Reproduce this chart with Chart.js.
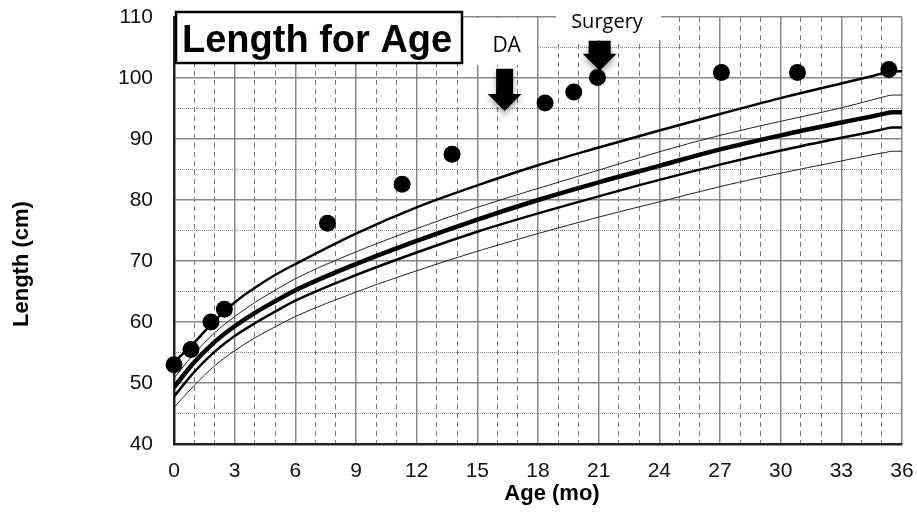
<!DOCTYPE html>
<html>
<head>
<meta charset="utf-8">
<script src="https://cdn.jsdelivr.net/npm/chart.js@4.4.1/dist/chart.umd.min.js"></script>
<style>
  html, body { margin: 0; padding: 0; background: #fff; }
  #wrap { width: 917px; height: 515px; }
</style>
</head>
<body>
<div id="wrap"><canvas id="chart" width="917" height="515"></canvas></div>
<script>
// reference curves (months / cm)
const refAges = [0, 1, 2, 3, 4, 5, 6, 9, 12, 15, 18, 21, 24, 27, 30, 33, 34.5, 35.2, 35.5, 36];
const p95 = [53.4, 56.6, 60.2, 63.2, 65.6, 67.7, 69.5, 74.5, 78.8, 82.4, 85.7, 88.6, 91.4, 94.1, 96.7, 99.1, 100.3, 100.9, 101.1, 101.1];
const p75 = [50.8, 54.8, 58.2, 60.9, 63.2, 65.2, 67.1, 71.5, 75.3, 78.8, 81.9, 84.9, 87.9, 90.6, 92.9, 95.1, 96.4, 97.0, 97.2, 97.2];
const p50 = [49.3, 53.4, 56.7, 59.3, 61.5, 63.4, 65.2, 69.5, 73.3, 76.8, 80.0, 82.9, 85.6, 88.3, 90.6, 92.7, 93.7, 94.2, 94.4, 94.4];
const p25 = [47.8, 51.8, 55.1, 57.7, 59.8, 61.7, 63.5, 67.7, 71.4, 74.8, 77.8, 80.6, 83.3, 85.8, 88.1, 90.2, 91.2, 91.7, 91.9, 91.9];
const p5  = [46.0, 49.6, 52.8, 55.3, 57.4, 59.2, 60.9, 64.9, 68.4, 71.6, 74.5, 77.2, 79.7, 82.2, 84.4, 86.4, 87.4, 87.8, 88.0, 88.0];

// patient measurements
const visitAge = [0, 0.84, 1.83, 2.49, 7.59, 11.28, 13.75, 18.35, 19.77, 20.94, 27.07, 30.83, 35.35];
const visitLength = [53.0, 55.5, 60.0, 62.1, 76.2, 82.6, 87.5, 95.9, 97.7, 100.1, 100.9, 100.9, 101.4];

// events marked with arrows
const eventNames = ['DA', 'Surgery'];
const eventAge = [16.35, 21.05];
const eventTip = [94.6, 101.2];
const eventTop = [101.5, 106.1];

const xTicks = { min: 0, max: 36, major: 3, minor: 1 };
const yTicks = { min: 40, max: 110, major: 10, minor: 5 };

const tickFont = { family: 'Liberation Sans, Arial, sans-serif', size: 21 };
const pts = (xs, ys) => xs.map((x, i) => ({ x: x, y: ys[i] }));

function curve(values, width, color) {
  return {
    type: 'line',
    data: pts(refAges, values),
    borderColor: color,
    borderWidth: width,
    pointRadius: 0,
    fill: false,
    cubicInterpolationMode: 'monotone',
    order: 1
  };
}

function drawArrow(ctx, x, yTop, yTip, shaftW, headW, headH) {
  const yHead = yTip - headH;
  ctx.beginPath();
  ctx.moveTo(x - shaftW / 2, yTop);
  ctx.lineTo(x + shaftW / 2, yTop);
  ctx.lineTo(x + shaftW / 2, yHead);
  ctx.lineTo(x + headW / 2, yHead);
  ctx.lineTo(x, yTip);
  ctx.lineTo(x - headW / 2, yHead);
  ctx.lineTo(x - shaftW / 2, yHead);
  ctx.closePath();
  ctx.fill();
}

const decorations = {
  id: 'decorations',
  afterDraw(chart) {
    const ctx = chart.ctx;
    const xs = chart.scales.x, ys = chart.scales.y;
    ctx.save();

    // white patches behind the event labels
    ctx.fillStyle = '#fff';
    ctx.fillRect(462, 18, 75, 47);
    ctx.fillRect(556, 0, 105, 40);

    // title box
    ctx.fillRect(176, 12, 286, 51);
    ctx.strokeStyle = '#000';
    ctx.lineWidth = 2.5;
    ctx.strokeRect(176, 12, 286, 51);
    ctx.fillStyle = '#000';
    ctx.font = 'bold 38px "Liberation Sans", Arial, sans-serif';
    ctx.textAlign = 'left';
    ctx.textBaseline = 'alphabetic';
    ctx.fillText('Length for Age', 182, 52);

    // event labels and arrows
    ctx.font = '21px "Open Sans", sans-serif';
    ctx.textAlign = 'center';
    ctx.fillText(eventNames[0], xs.getPixelForValue(eventAge[0]) + 2, 52);
    ctx.font = '20px "Open Sans", sans-serif';
    ctx.fillText(eventNames[1], 607, 28);

    ctx.shadowColor = 'rgba(0,0,0,0.35)';
    ctx.shadowBlur = 6;
    ctx.shadowOffsetY = 4;
    const sizes = [[17, 34, 17], [22, 34, 17]];
    eventAge.forEach((a, i) => {
      drawArrow(ctx, xs.getPixelForValue(a), ys.getPixelForValue(eventTop[i]),
        ys.getPixelForValue(eventTip[i]), sizes[i][0], sizes[i][1], sizes[i][2]);
    });
    ctx.shadowColor = 'transparent';

    // axis titles
    ctx.font = 'bold 22px "Liberation Sans", Arial, sans-serif';
    ctx.textBaseline = 'middle';
    ctx.fillText('Age (mo)', 552, 494);
    ctx.translate(22, 264);
    ctx.rotate(-Math.PI / 2);
    ctx.fillText('Length (cm)', 0, 0);
    ctx.restore();
  }
};

new Chart(document.getElementById('chart'), {
  data: {
    datasets: [
      {
        type: 'scatter',
        data: pts(visitAge, visitLength),
        pointRadius: 8.5,
        pointBackgroundColor: '#000',
        pointBorderWidth: 0,
        clip: false,
        order: 0
      },
      curve(p95, 2.5, '#000'),
      curve(p75, 1, '#222'),
      curve(p50, 4.5, '#000'),
      curve(p25, 2.5, '#000'),
      curve(p5, 1, '#222')
    ]
  },
  options: {
    responsive: false,
    animation: false,
    layout: { padding: { left: 0, right: 15, top: 17, bottom: 0 } },
    plugins: { legend: { display: false }, tooltip: { enabled: false } },
    scales: {
      x: {
        type: 'linear', position: 'bottom', min: xTicks.min, max: xTicks.max,
        ticks: { stepSize: xTicks.major, font: tickFont, color: '#111', padding: 15, maxRotation: 0, autoSkip: false },
        grid: { drawTicks: false, lineWidth: 1.5, color: c => c.tick && c.tick.value === xTicks.min ? 'transparent' : '#888' },
        border: { color: '#222', width: 2.5 },
        afterFit: s => { s.height = 71; s.paddingLeft = 0; s.paddingRight = 0; }
      },
      x2: {
        type: 'linear', position: 'bottom', min: xTicks.min, max: xTicks.max,
        ticks: { display: false, stepSize: xTicks.minor, autoSkip: false },
        grid: { drawTicks: false, lineWidth: 1, color: c => c.tick && c.tick.value % xTicks.major === 0 ? 'transparent' : '#777' },
        border: { display: false, dash: [5, 4] },
        afterFit: s => { s.height = 0; s.paddingLeft = 0; s.paddingRight = 0; }
      },
      y: {
        type: 'linear', position: 'left', min: yTicks.min, max: yTicks.max,
        ticks: { stepSize: yTicks.major, font: tickFont, color: '#111', padding: 21 },
        grid: { drawTicks: false, lineWidth: 1.5, color: c => c.tick && c.tick.value === yTicks.min ? 'transparent' : '#888' },
        border: { color: '#222', width: 2.5 },
        afterFit: s => { s.width = 174; s.paddingTop = 0; s.paddingBottom = 0; }
      },
      y2: {
        type: 'linear', position: 'left', min: yTicks.min, max: yTicks.max,
        ticks: { display: false, stepSize: yTicks.minor },
        grid: { drawTicks: false, lineWidth: 1, color: c => c.tick && c.tick.value % yTicks.major === 0 ? 'transparent' : '#888' },
        border: { display: false, dash: [1, 1] },
        afterFit: s => { s.width = 0; s.paddingTop = 0; s.paddingBottom = 0; }
      }
    }
  },
  plugins: [decorations]
});
</script>
</body>
</html>
